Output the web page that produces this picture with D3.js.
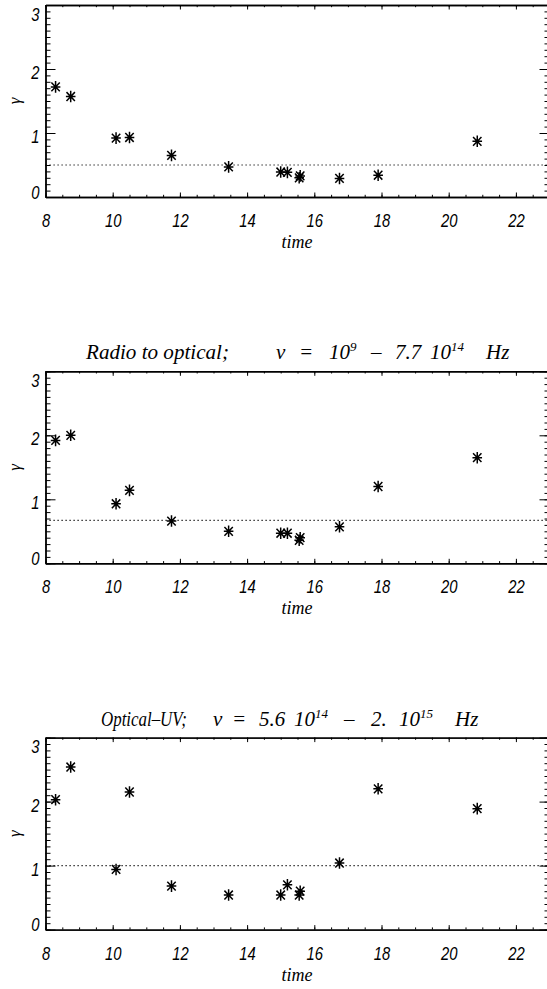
<!DOCTYPE html>
<html>
<head>
<meta charset="utf-8">
<script src="https://cdn.jsdelivr.net/npm/d3@7"></script>
<style>
  html, body { margin: 0; padding: 0; background: #fff; overflow: hidden; }
  svg { display: block; }
</style>
</head>
<body>
<svg id="chart" width="547" height="989"></svg>
<script>
// Observation epochs (time) shared by all three panels
const times = [8.3, 8.75, 10.1, 10.5, 11.75, 13.45, 15.0, 15.2, 15.55, 15.58, 16.75, 17.9, 20.85];

// Spectral index gamma per epoch, one series per panel
const gammaPanel1 = [1.72, 1.57, 0.92, 0.93, 0.65, 0.47, 0.39, 0.385, 0.30, 0.33, 0.29, 0.34, 0.87];
const gammaRadioOptical = [1.92, 2.0, 0.93, 1.14, 0.66, 0.50, 0.47, 0.47, 0.36, 0.40, 0.57, 1.20, 1.65];
const gammaOpticalUV = [2.03, 2.54, 0.94, 2.15, 0.68, 0.54, 0.54, 0.70, 0.54, 0.60, 1.04, 2.20, 1.89];

// Horizontal dotted reference level in each panel
const referenceLevels = [0.5, 0.67, 1.0];

// Axis ticks
const xMajorTicks = [8, 10, 12, 14, 16, 18, 20, 22];
const xMinorTicks = d3.range(16, 47).map(v => v / 2);     // every 0.5
const yMajorTicks = [0, 1, 2, 3];
const yMinorTicks = d3.range(0, 31).map(v => v / 10);     // every 0.1

// Panel titles: [start x, text, superscript?, fitted width]
const titles = [
  null,
  [[86, "Radio to optical;", false, 143], [276, "\u03bd"], [299, "="], [329, "10"], [350, "9", true],
   [371, "\u2013"], [395, "7.7"], [430, "10"], [451, "14", true], [486, "Hz"]],
  [[101, "Optical\u2013UV;", false, 86], [213, "\u03bd"], [232, "="], [259, "5.6"], [294, "10"], [315, "14", true],
   [344, "\u2013"], [371, "2."], [399, "10"], [420, "15", true], [455, "Hz"]]
];

const series = [gammaPanel1, gammaRadioOptical, gammaOpticalUV];

const NUM_FONT = '"Liberation Sans", Arial, sans-serif';
const SERIF_FONT = '"Liberation Serif", "Times New Roman", serif';
const NARROW = 0.78;   // horizontal squeeze for the tall, narrow axis numerals

const svg = d3.select("#chart");
const left = 45.5, right = 549.5, panelHeight = 192;
const panelTops = [5, 371.3, 737.6];

const x = d3.scaleLinear().domain([8, 23]).range([left, right]);

const starPath = "M0,-5.8V5.8M-4.8,0H4.8M-4.2,-4.4L4.2,4.4M-4.2,4.4L4.2,-4.4";

function numLabel(sel) {
  sel.attr("fill", "#000")
    .style("font-family", NUM_FONT)
    .style("font-style", "italic")
    .style("font-size", "19px");
}

series.forEach((vals, i) => {
  const top = panelTops[i], bottom = top + panelHeight;
  const y = d3.scaleLinear().domain([0, 3]).range([bottom, top]);
  const g = svg.append("g");

  const styleAxis = sel => {
    sel.selectAll(".domain").attr("stroke", "#000").attr("stroke-width", 1.4);
    sel.selectAll(".tick line").attr("stroke", "#000").attr("stroke-width", 1);
  };

  // minor ticks on all four sides
  g.append("g").attr("transform", `translate(0,${bottom})`)
    .call(d3.axisBottom(x).tickValues(xMinorTicks).tickSize(-2.2).tickSizeOuter(0).tickFormat(""))
    .call(styleAxis);
  g.append("g").attr("transform", `translate(0,${top})`)
    .call(d3.axisTop(x).tickValues(xMinorTicks).tickSize(-2.2).tickSizeOuter(0).tickFormat(""))
    .call(styleAxis);
  g.append("g").attr("transform", `translate(${left},0)`)
    .call(d3.axisLeft(y).tickValues(yMinorTicks).tickSize(-5).tickSizeOuter(0).tickFormat(""))
    .call(styleAxis);
  g.append("g").attr("transform", `translate(${right},0)`)
    .call(d3.axisRight(y).tickValues(yMinorTicks).tickSize(-5).tickSizeOuter(0).tickFormat(""))
    .call(styleAxis);

  // major ticks with labels
  const xb = g.append("g").attr("transform", `translate(0,${bottom})`)
    .call(d3.axisBottom(x).tickValues(xMajorTicks).tickSize(-4.5).tickSizeOuter(0).tickFormat(d3.format("d")))
    .call(styleAxis);
  xb.selectAll(".tick text")
    .call(numLabel)
    .attr("y", 30).attr("dy", null)
    .attr("transform", `scale(${NARROW},1)`);

  g.append("g").attr("transform", `translate(0,${top})`)
    .call(d3.axisTop(x).tickValues(xMajorTicks).tickSize(-4.5).tickSizeOuter(0).tickFormat(""))
    .call(styleAxis);

  const yl = g.append("g").attr("transform", `translate(${left},0)`)
    .call(d3.axisLeft(y).tickValues(yMajorTicks).tickSize(-10).tickSizeOuter(0).tickFormat(d3.format("d")))
    .call(styleAxis);
  yl.selectAll(".tick text")
    .call(numLabel)
    .attr("text-anchor", "end")
    .attr("x", -6 / NARROW)
    .attr("dy", null)
    .attr("y", d => d === 3 ? 15 : (d === 0 ? 1 : 9.5))
    .attr("transform", `scale(${NARROW},1)`);

  g.append("g").attr("transform", `translate(${right},0)`)
    .call(d3.axisRight(y).tickValues(yMajorTicks).tickSize(-10).tickSizeOuter(0).tickFormat(""))
    .call(styleAxis);

  // dotted reference level
  g.append("line")
    .attr("x1", x(8)).attr("x2", x(23))
    .attr("y1", y(referenceLevels[i])).attr("y2", y(referenceLevels[i]))
    .attr("stroke", "#000").attr("stroke-width", 1.1)
    .attr("stroke-dasharray", "1.2,2.8");

  // asterisk markers
  g.append("g").selectAll("path")
    .data(times.map((t, k) => ({t, v: vals[k]})))
    .join("path")
    .attr("transform", d => `translate(${x(d.t)},${y(d.v)})`)
    .attr("d", starPath)
    .attr("fill", "none").attr("stroke", "#000").attr("stroke-width", 1.5);

  // axis titles
  g.append("text")
    .attr("x", 297).attr("y", bottom + 51)
    .attr("text-anchor", "middle")
    .style("font-family", SERIF_FONT).style("font-style", "italic").style("font-size", "18px")
    .text("time");

  g.append("text")
    .attr("transform", `translate(20,${(top + bottom) / 2}) rotate(-90)`)
    .attr("text-anchor", "middle")
    .style("font-family", SERIF_FONT).style("font-style", "italic").style("font-size", "17px")
    .text("\u03b3");

  // panel title
  if (titles[i]) {
    const tt = g.append("text")
      .attr("y", top - 12)
      .style("font-family", SERIF_FONT).style("font-style", "italic").style("font-size", "21px");
    titles[i].forEach(([sx, s, sup, w]) => {
      const span = tt.append("tspan")
        .attr("x", sx)
        .attr("y", sup ? top - 20 : top - 12)
        .style("font-size", sup ? "13px" : null)
        .text(s);
      if (w) span.attr("textLength", w).attr("lengthAdjust", "spacingAndGlyphs");
    });
  }
});
</script>
</body>
</html>
